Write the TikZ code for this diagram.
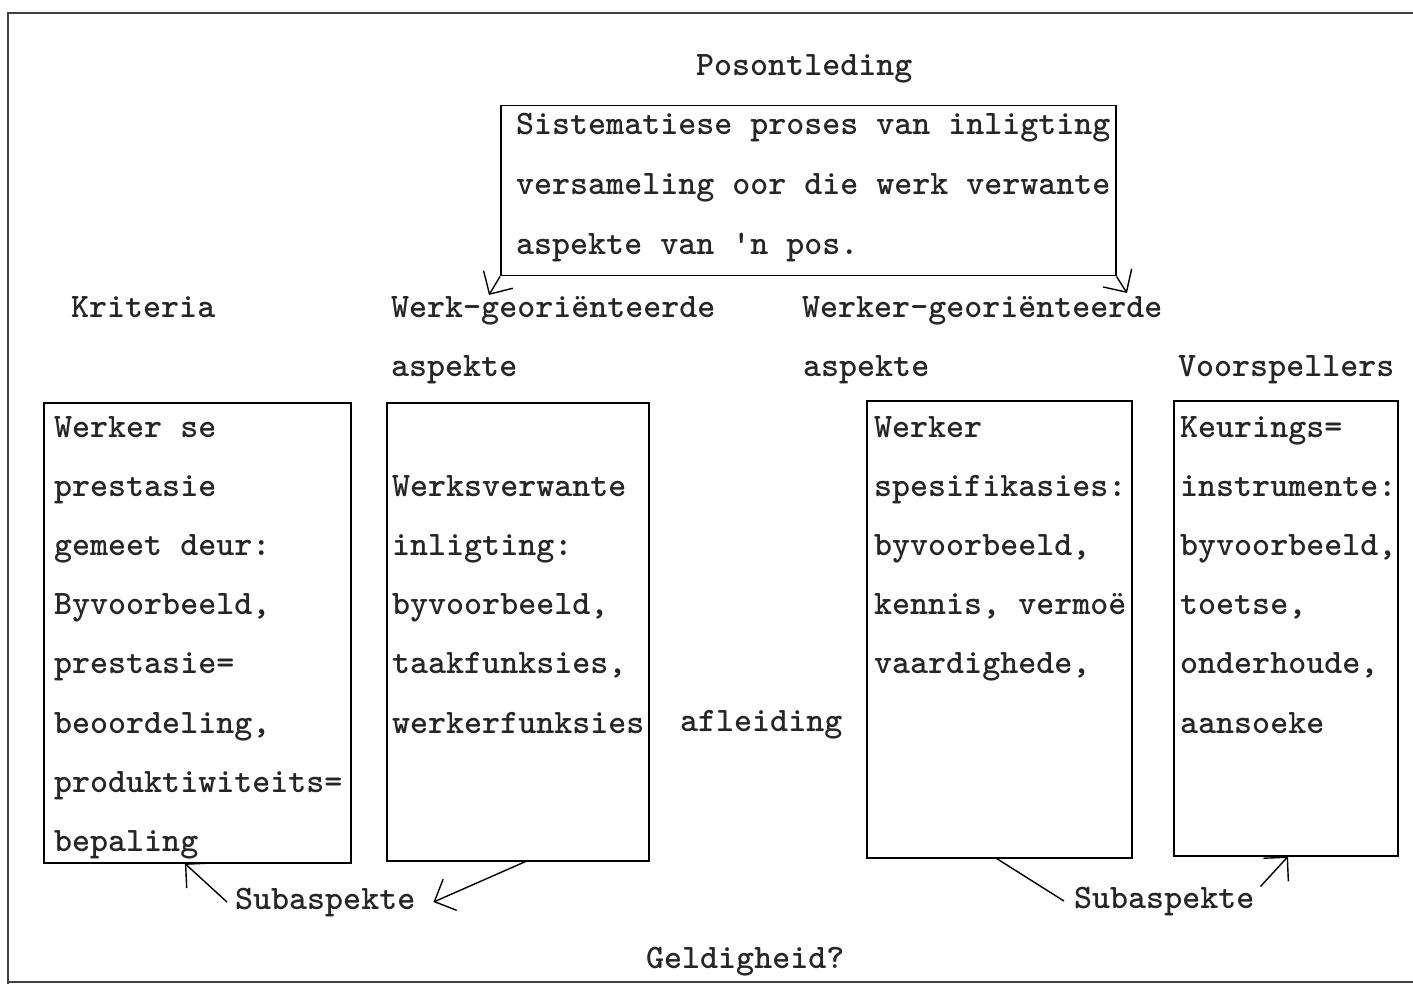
\documentclass[tikz,border=0pt]{standalone}
\usetikzlibrary{arrows.meta, calc}
\newcommand{\typew}{\fontsize{34.3}{59.3}\selectfont\ttfamily\fontseries{b}\selectfont}

\begin{document}
\begin{tikzpicture}[x=1pt, y=-1pt, >={Straight Barb[length=17pt, width=34pt]},
	every node/.style={font=\typew, inner sep=0pt, text=black!85},
	txt/.style={anchor=base west},
	panel/.style={draw, line width=1.5pt, anchor=north west},
	arr/.style={->, line width=1.4pt},
	frame/.style={line width=1.6pt, black!75}]

		\useasboundingbox (0,0) rectangle (1413,984);

		% Frame
		\draw [frame] (1413,13) -- (8,13) -- (8,984);
		\draw [frame] (8,982) -- (1413,982);

		% Posontleding
		\node [txt] (title) at (696,76) {Posontleding};
		\node [panel, minimum width=615pt, minimum height=170pt] (posbox) at (500,105) {};
		\foreach \t [count=\i from 0] in {Sistematiese proses van inligting,
			versameling oor die werk verwante, aspekte van 'n pos.}
			\node [txt] (pos-\i) at (516, 135+60*\i) {\t};

		% Headings
		\node [txt] (krit-kop) at (71,317) {Kriteria};
		\node [txt] (werk-kop) at (391,317) {Werk-georiënteerde};
		\node [txt] (werk-kop2) at (391,376) {aspekte};
		\node [txt] (werker-kop) at (802,317) {Werker-georiënteerde};
		\node [txt] (werker-kop2) at (803,376) {aspekte};
		\node [txt] (voor-kop) at (1178,376) {Voorspellers};

		% Kriteria
		\node [panel, minimum width=307pt, minimum height=460pt] (krit) at (43,402) {};
		\foreach \t [count=\i from 0] in {Werker se, prestasie, gemeet deur:,
			{Byvoorbeeld,}, prestasie=, {beoordeling,}, produktiwiteits=, bepaling}
			\node [txt] (krit-\i) at (54, 437+59.2*\i) {\t};

		% Werk
		\node [panel, minimum width=262pt, minimum height=458pt] (werk) at (386,402) {};
		\foreach \t [count=\i] in {Werksverwante, inligting:, {byvoorbeeld,},
			{taakfunksies,}, werkerfunksies}
			\node [txt] (werk-\i) at (392, 437+59.2*\i) {\t};

		\node [txt] (afl) at (680,731) {afleiding};

		% Werker
		\node [panel, minimum width=265pt, minimum height=457pt] (werker) at (866,400) {};
		\foreach \t [count=\i from 0] in {Werker, spesifikasies:, {byvoorbeeld,},
			{kennis, vermoë}, {vaardighede,}}
			\node [txt] (werker-\i) at (874, 437+59.2*\i) {\t};

		% Voorspellers
		\node [panel, minimum width=224pt, minimum height=455pt] (voor) at (1173,400) {};
		\foreach \t [count=\i from 0] in {Keurings=, instrumente:, {byvoorbeeld,},
			{toetse,}, {onderhoude,}, aansoeke}
			\node [txt] (voor-\i) at (1180, 437+59.2*\i) {\t};

		% Bottom labels
		\node [txt] (sub-l) at (235,909) {Subaspekte};
		\node [txt] (sub-r) at (1074,908) {Subaspekte};
		\node [txt] (geld) at (646,968) {Geldigheid?};

		% Arrows
		\coordinate (werk-pt) at (489,295);
		\coordinate (werker-pt) at (1127,293);
		\draw [arr] (posbox.south west) -- (werk-pt);
		\draw [arr] (posbox.south east) -- (werker-pt);

		\draw [arr] ([xshift=-8pt]sub-l.west) -- ($(krit.south west)!0.46!(krit.south east)$);
		\draw [arr] ($(werk.south west)!0.53!(werk.south east)$) -- ([xshift=18pt]sub-l.east);
		\draw [line width=1.4pt] ($(werker.south west)!0.49!(werker.south east)$) --
			([xshift=-10pt]sub-r.west);
		\draw [arr] ([xshift=6pt]sub-r.north east) -- ($(voor.south west)!0.51!(voor.south east)$);

	\end{tikzpicture}
\end{document}
